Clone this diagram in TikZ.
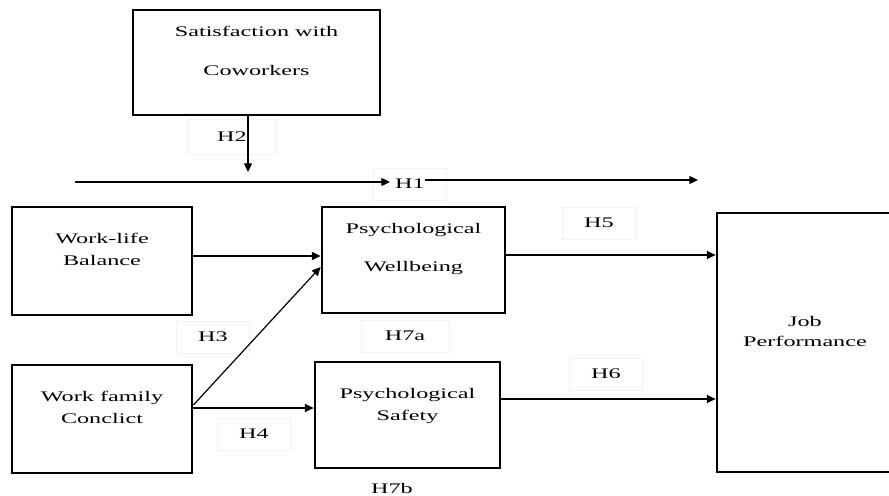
\documentclass[tikz,border=0pt]{standalone}
\usepackage{fontspec}
\setmainfont{Liberation Serif}[FakeStretch=1.65]
\usetikzlibrary{arrows.meta}

\begin{document}
\begin{tikzpicture}[
    x=0.75pt, y=-0.75pt,
    >={Triangle[length=6.5pt,width=6pt]},
    every node/.style={font=\fontsize{11}{16.5}\selectfont, text=black},
    box/.style={rectangle, draw=black, line width=2.1pt, align=center, text depth=3pt},
    hyp/.style={rectangle, draw=black!5, line width=0.4pt, minimum width=55pt, minimum height=24pt, inner sep=0pt},
    arr/.style={->, line width=0.9pt}
  ]
    \useasboundingbox (0,0) rectangle (889,496);
    % constructs
    \node[box, minimum width=185.25pt, minimum height=78.75pt, text height=22.25pt] (sat) at (256.5,62.5) {Satisfaction with\\[12.75pt]Coworkers};
    \node[box, minimum width=135pt, minimum height=81pt, text height=9.5pt] (wlb) at (102,261) {Work-life\\Balance};
    \node[box, minimum width=135pt, minimum height=81pt, text height=9.5pt] (wfc) at (102,419) {Work family\\Conclict};
    \node[box, minimum width=137.25pt, minimum height=79.5pt, text height=20pt] (pw) at (413.5,260) {Psychological\\[12pt]Wellbeing};
    \node[box, minimum width=138.75pt, minimum height=79.5pt, text height=11pt] (ps) at (407.5,415) {Psychological\\Safety};
    \node[box, minimum width=132pt, minimum height=194.25pt, text height=8.75pt] (jp) at (805,342.5) {Job\\[-1.5pt]Performance};
    % hypothesis labels
    \node[hyp, minimum width=66pt, minimum height=26pt] (h2) at (232,137) {H2};
    \node[hyp] (h1) at (410,184) {H1};
    \node[hyp] (h3) at (213,337) {H3};
    \node[hyp, minimum width=66pt] (h7a) at (405,336) {H7a};
    \node[hyp] (h4) at (254,434) {H4};
    \node[hyp] (h5) at (599,223) {H5};
    \node[hyp] (h6) at (606,374) {H6};
    \node[hyp, draw=none] (h7b) at (392,488) {H7b};
    % free ends
    \coordinate (h2tip) at (248,172);
    \coordinate (h1a) at (75,182);
    \coordinate (h1b) at (390,182);
    \coordinate (h1c) at (425,180);
    \coordinate (h1d) at (698,180);
    % paths
    \draw[arr] (sat.south -| h2tip) -- (h2tip);
    \draw[arr] (h1a) -- (h1b);
    \draw[arr] (h1c) -- (h1d);
    \draw[arr] ([yshift=3.75pt]wlb.east) -- ([yshift=3.75pt]wlb.east -| pw.west);
    \draw[arr] ([yshift=10.5pt]wfc.east) -- ([yshift=-5.25pt]pw.west);
    \draw[arr] ([yshift=8.25pt]wfc.east) -- ([yshift=8.25pt]wfc.east -| ps.west);
    \draw[arr] ([yshift=3.75pt]pw.east) -- ([yshift=3.75pt]pw.east -| jp.west);
    \draw[arr] ([yshift=12pt]ps.east) -- ([yshift=12pt]ps.east -| jp.west);
\end{tikzpicture}
\end{document}
